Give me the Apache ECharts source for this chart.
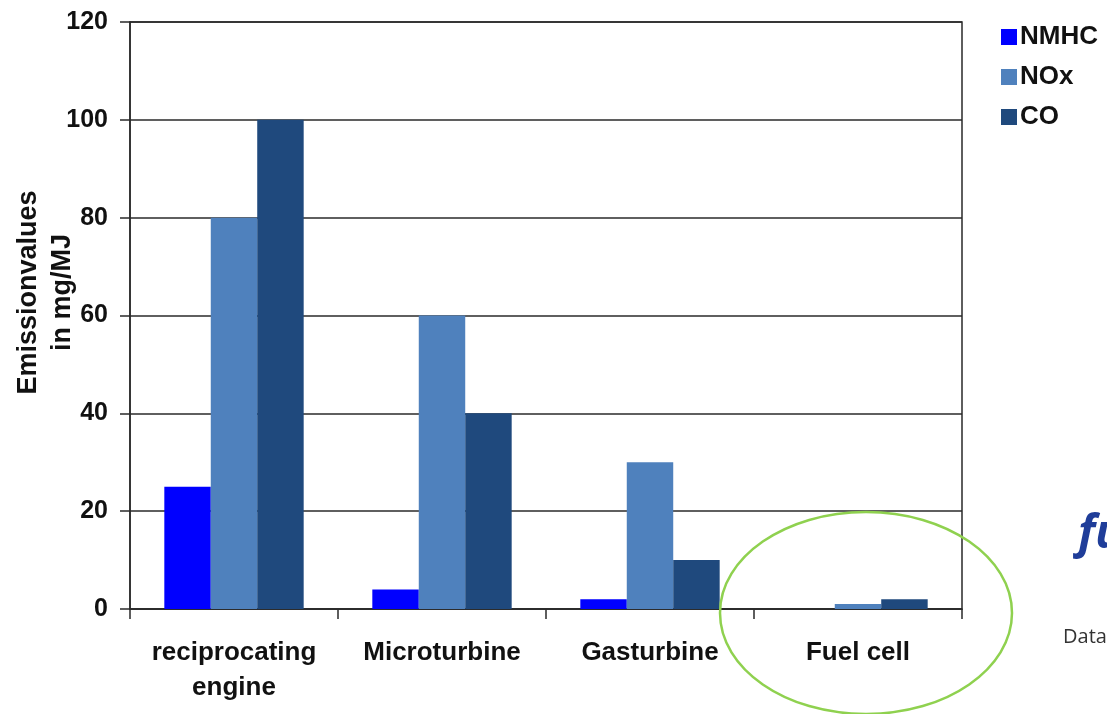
<!DOCTYPE html>
<html>
<head>
<meta charset="utf-8">
<script src="https://cdn.jsdelivr.net/npm/echarts@6/dist/echarts.min.js"></script>
<style>
html,body{margin:0;padding:0;background:#fff;}
#chart{width:1107px;height:714px;}
</style>
</head>
<body>
<div id="chart"></div>
<script>
const categories = ['reciprocating\nengine', 'Microturbine', 'Gasturbine', 'Fuel cell'];
const seriesNames = ['NMHC', 'NOx', 'CO'];
const nmhc = [25, 4, 2, 0];
const nox = [80, 60, 30, 1];
const co = [100, 40, 10, 2];
const yTicks = [0, 20, 40, 60, 80, 100, 120];
const colors = ['#0000FF', '#4F81BD', '#1F497D'];

const chart = echarts.init(document.getElementById('chart'));
const font = 'Liberation Sans, Arial, sans-serif';
const data = [nmhc, nox, co];

chart.setOption({
  animation: false,
  backgroundColor: '#fff',
  grid: {
    left: 130, right: 145, top: 22, bottom: 105,
    outerBoundsMode: 'none', containLabel: false,
    show: true, borderColor: '#2a2a2a', borderWidth: 1.5, backgroundColor: 'transparent'
  },
  legend: {
    orient: 'vertical',
    left: 996, top: 19,
    itemWidth: 16, itemHeight: 16, itemGap: 14,
    icon: 'rect',
    data: seriesNames,
    textStyle: { fontFamily: font, fontWeight: 'bold', fontSize: 26, color: '#111', padding: [0, 0, 0, -2] }
  },
  xAxis: {
    type: 'category',
    data: categories,
    axisLine: { lineStyle: { color: '#2a2a2a', width: 1.5 } },
    axisTick: { show: true, alignWithLabel: false, interval: 0, length: 10, lineStyle: { color: '#2a2a2a', width: 1.5 } },
    axisLabel: {
      interval: 0, margin: 26, fontFamily: font, fontWeight: 'bold', fontSize: 26,
      color: '#111', lineHeight: 35
    }
  },
  yAxis: {
    type: 'value',
    min: yTicks[0], max: yTicks[yTicks.length - 1], interval: 20,
    name: 'Emissionvalues\nin mg/MJ',
    nameLocation: 'middle',
    nameGap: 50,
    nameMoveOverlap: false,
    nameTextStyle: { fontFamily: font, fontWeight: 'bold', fontSize: 27, color: '#111', lineHeight: 34, padding: [0, 0, 0, 46] },
    axisLine: { show: true, lineStyle: { color: '#2a2a2a', width: 1.5 } },
    axisTick: { show: true, length: 10, lineStyle: { color: '#2a2a2a', width: 1.5 } },
    splitLine: { show: true, lineStyle: { color: '#2a2a2a', width: 1.5 } },
    axisLabel: { fontFamily: font, fontWeight: 'bold', fontSize: 25, color: '#111', margin: 22 }
  },
  series: seriesNames.map((name, i) => ({
    name: name,
    type: 'bar',
    data: data[i],
    barGap: '0%',
    barCategoryGap: '33%',
    itemStyle: { color: colors[i] }
  })),
  graphic: [
    {
      type: 'ellipse',
      shape: { cx: 866, cy: 613, rx: 146, ry: 101 },
      style: { fill: 'none', stroke: '#8FD14F', lineWidth: 2.5 },
      z: 100
    },
    {
      type: 'text', left: 1078, top: 512,
      style: { text: 'fu', fontFamily: 'Open Sans, sans-serif', fontStyle: 'italic', fontWeight: 'bold', fontSize: 46, fill: '#1F3D99' }
    },
    {
      type: 'text', left: 1063, top: 627,
      style: { text: 'Data', fontFamily: 'Open Sans, sans-serif', fontSize: 20, fill: '#333' }
    }
  ]
});
</script>
</body>
</html>
